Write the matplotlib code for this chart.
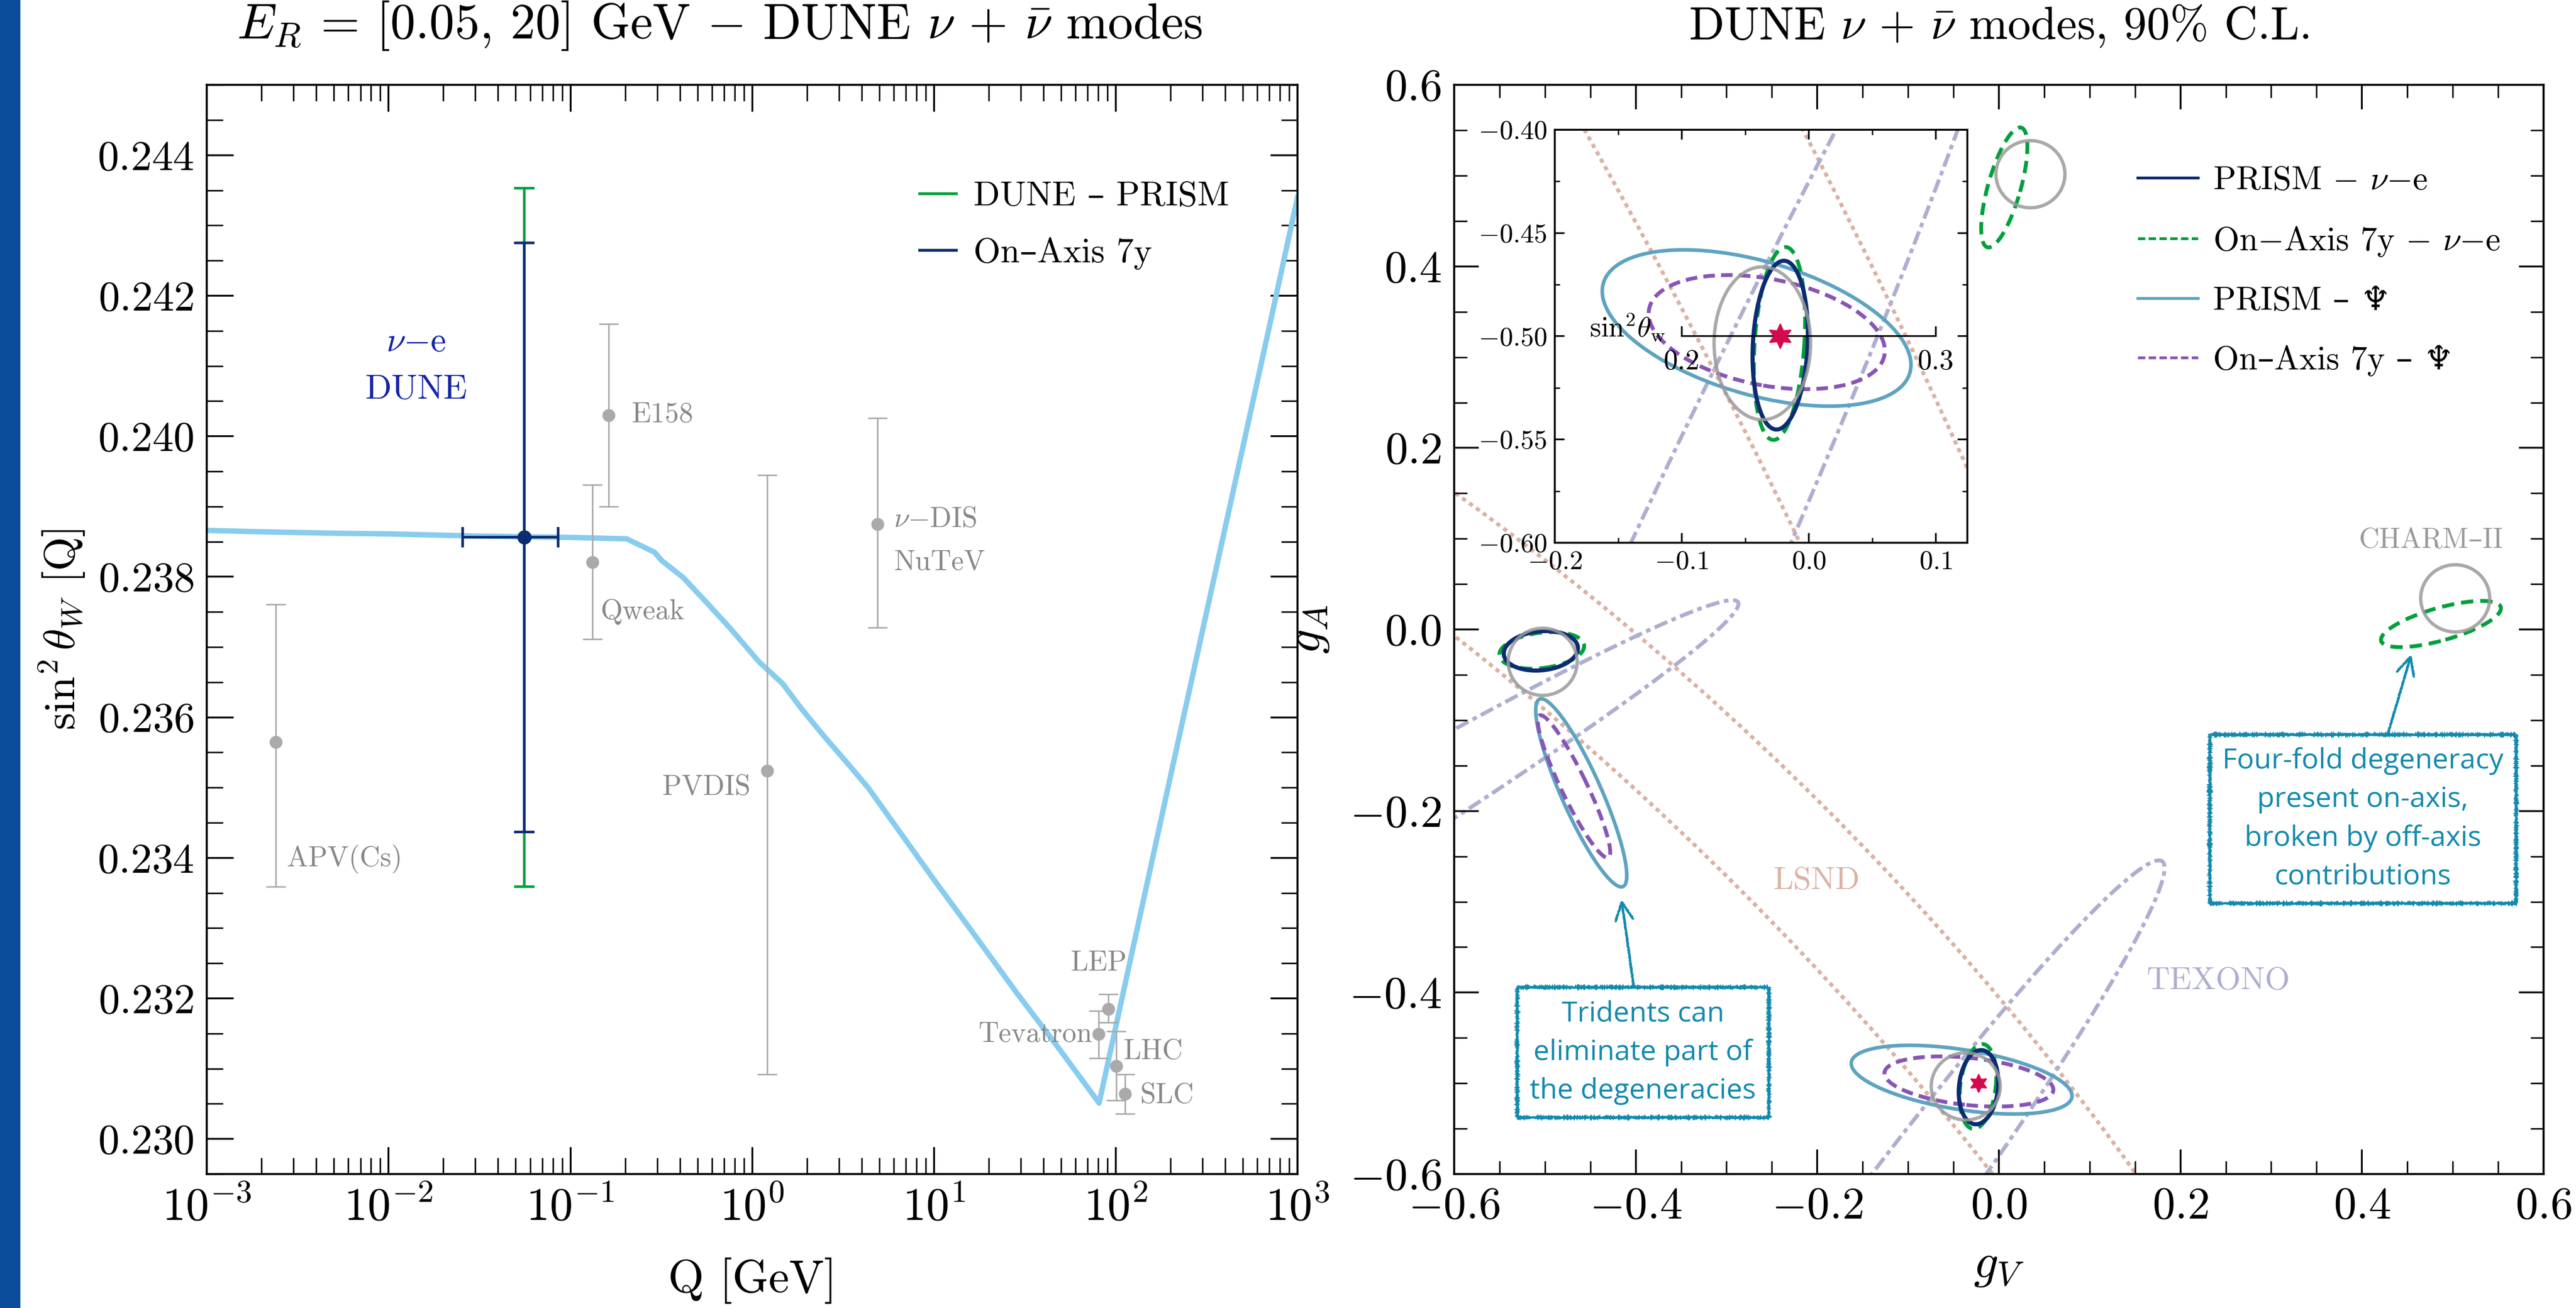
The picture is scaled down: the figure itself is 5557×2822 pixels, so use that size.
import matplotlib
matplotlib.use('Agg')
import matplotlib.pyplot as plt
from matplotlib.patches import Ellipse, Rectangle
from matplotlib.lines import Line2D
from matplotlib.ticker import FuncFormatter, MultipleLocator, FixedLocator, NullFormatter

plt.rcParams['mathtext.fontset'] = 'cm'
plt.rcParams['font.family'] = ['cmr10', 'DejaVu Serif', 'DejaVu Sans']
plt.rcParams['axes.formatter.use_mathtext'] = True
plt.rcParams['axes.linewidth'] = 1.6

# ---------------- left panel data ----------------
# running sin^2 theta_W (light blue curve)
q_run = [0.001, 0.002, 0.005, 0.01, 0.03, 0.1, 0.204, 0.29, 0.318, 0.417, 0.563,
         0.761, 1.09, 1.47, 1.87, 2.45, 3.41, 4.34, 10.06, 15.7, 28.3, 48.6, 81.0,
         200.0, 700.0, 1000.0]
s2w_run = [0.23866, 0.23864, 0.23862, 0.23861, 0.23858, 0.23856, 0.23854, 0.23835,
           0.23823, 0.23799, 0.23763, 0.23726, 0.23679, 0.23648, 0.23612, 0.23575,
           0.23532, 0.23500, 0.23368, 0.23300, 0.23209, 0.23129, 0.23051,
           0.23516, 0.24156, 0.24340]

# existing measurements (grey)
exp_names = ['APV(Cs)', 'Qweak', 'E158', 'PVDIS', 'NuTeV', 'Tevatron', 'LEP', 'LHC', 'SLC']
exp_q = [0.0024, 0.1325, 0.162, 1.21, 4.89, 80.4, 91.0, 100.7, 112.5]
exp_s2w = [0.23565, 0.23821, 0.24030, 0.23524, 0.23875, 0.23149, 0.23185, 0.23104, 0.23064]
exp_err_lo = [0.00206, 0.00110, 0.00130, 0.00432, 0.00147, 0.00034, 0.00019, 0.00049, 0.00028]
exp_err_hi = [0.00196, 0.00110, 0.00130, 0.00421, 0.00151, 0.00033, 0.00021, 0.00049, 0.00028]

# DUNE nu-e projection
dune_q = 0.0556
dune_qerr = 0.03
dune_s2w = 0.23856
dune_err_prism = 0.00497
dune_err_onaxis = 0.00419

q_ticks = [1e-3, 1e-2, 1e-1, 1e0, 1e1, 1e2, 1e3]

# ---------------- right panel data ----------------
# contours as (gV centre, gA centre, width, height, angle)
prism_nue = [(-0.0224, -0.5043, 0.082, 0.043, 84.4),
             (-0.5045, -0.0235, 0.082, 0.043, 5.6)]
onaxis_nue = [(-0.0230, -0.5035, 0.094, 0.039, 83.0),
              (-0.5035, -0.0230, 0.094, 0.039, 7.0),
              (0.0060, 0.4870, 0.137, 0.036, 74.2),
              (0.4870, 0.0060, 0.137, 0.036, 15.8)]
prism_tri = [(-0.041, -0.496, 0.246, 0.066, -9.0),
             (-0.460, -0.180, 0.226, 0.044, 114.0)]
onaxis_tri = [(-0.033, -0.498, 0.187, 0.052, -6.0),
              (-0.468, -0.173, 0.174, 0.028, 115.8)]
charm2 = [(-0.5025, -0.0356, 0.076, 0.074, 0.0),
          (-0.0365, -0.5034, 0.076, 0.074, 0.0),
          (0.0348, 0.5016, 0.076, 0.074, 0.0),
          (0.5027, 0.0343, 0.076, 0.074, 0.0)]
texono = [(-0.973, -0.382, 1.60, 0.100, 31.0),
          (-0.148, -0.697, 1.10, 0.104, 53.4)]
lsnd = [(-1.0, -1.0, 2.02, 3.80, 45.0),
        (-1.0, -1.0, 2.28, 3.90, 45.0)]
sm_point = (-0.0225, -0.5)
s2w_scale = [0.2, 0.3]

c_navy = '#0b2b72'
c_green = '#00a03c'
c_teal = '#5ea3c0'
c_purple = '#8855b5'
c_gray = '#9a9a9a'
c_lsnd = '#dcb1a4'
c_texono = '#aeaed0'
c_star = '#d6084f'
c_run = '#88ccee'
c_note = '#1289ad'

fig = plt.figure(figsize=(27.785, 14.11), dpi=200)
fig.add_artist(Rectangle((0, 0), 42 / 5557, 1, transform=fig.transFigure,
                         color='#0a4c9a', zorder=0))

# ================= left panel =================
ax1 = fig.add_axes([0.0803, 0.1024, 0.4234, 0.8327])
ax1.plot(q_run, s2w_run, color=c_run, lw=4.2, zorder=2)
ax1.errorbar(exp_q, exp_s2w, yerr=[exp_err_lo, exp_err_hi], fmt='o', color='#aaaaaa',
             ms=9, lw=1.2, capsize=7.5, capthick=1.2, zorder=3)
ax1.errorbar([dune_q], [dune_s2w], yerr=dune_err_prism, fmt='none', ecolor=c_green,
             elinewidth=2.0, capsize=8, capthick=2.0, zorder=4)
ax1.errorbar([dune_q], [dune_s2w], xerr=dune_qerr, yerr=dune_err_onaxis, fmt='o',
             color=c_navy, ms=10, elinewidth=2.0, capsize=8, capthick=2.0, zorder=5)

ax1.set_xscale('log')
ax1.set_xlim(1e-3, 1e3)
ax1.set_ylim(0.2295, 0.245)
ax1.yaxis.set_major_locator(MultipleLocator(0.002))
ax1.yaxis.set_minor_locator(MultipleLocator(0.0005))
ax1.yaxis.set_major_formatter(FuncFormatter(lambda v, p: r'$%.3f$' % v))
ax1.xaxis.set_major_locator(FixedLocator(q_ticks))
ax1.xaxis.set_major_formatter(FuncFormatter(lambda v, p: r'$10^{%d}$' % round(__import__('math').log10(v))))
ax1.xaxis.set_minor_locator(FixedLocator([d * m for d in q_ticks[:-1] for m in range(2, 10)]))
ax1.xaxis.set_minor_formatter(NullFormatter())
ax1.tick_params(which='both', direction='in', top=True, right=True, labelsize=36, pad=10)
ax1.tick_params(axis='y', labelsize=33)
ax1.tick_params(which='major', length=21, width=1.4)
ax1.tick_params(which='minor', length=12.5, width=1.2)
ax1.set_xlabel('Q [GeV]', fontsize=36, labelpad=22)
ax1.set_ylabel(r'$\sin^2\theta_W$ [Q]', fontsize=34, labelpad=8)
ax1.set_title(r'$E_R$ = [0.05, 20] GeV $-$ DUNE $\nu$ + $\bar{\nu}$ modes', fontsize=39,
              pad=36, x=0.47)

gtxt = dict(color='#888888', fontsize=22)
ax1.text(0.00276, 0.23398, 'APV(Cs)', ha='left', va='center', **gtxt)
ax1.text(0.147, 0.2375, 'Qweak', ha='left', va='center', **gtxt)
ax1.text(0.216, 0.2403, 'E158', ha='left', va='center', **gtxt)
ax1.text(0.977, 0.2350, 'PVDIS', ha='right', va='center', **gtxt)
ax1.text(6.0, 0.23881, r'$\nu$$-$DIS', ha='left', va='center', **gtxt)
ax1.text(6.0, 0.2382, 'NuTeV', ha='left', va='center', **gtxt)
ax1.text(56.2, 0.2325, 'LEP', ha='left', va='center', **gtxt)
ax1.text(74.5, 0.23149, 'Tevatron', ha='right', va='center', **gtxt)
ax1.text(110, 0.23124, 'LHC', ha='left', va='center', **gtxt)
ax1.text(136, 0.23061, 'SLC', ha='left', va='center', **gtxt)
ax1.text(0.01416, 0.24133, r'$\nu$$-$e', ha='center', va='center', color='#1424a8', fontsize=27)
ax1.text(0.01416, 0.24065, 'DUNE', ha='center', va='center', color='#1424a8', fontsize=27)

h_left = [Line2D([], [], color=c_green, lw=2.2), Line2D([], [], color=c_navy, lw=2.2)]
ax1.legend(h_left, ['DUNE – PRISM', 'On–Axis 7y'], loc='upper left',
           bbox_to_anchor=(0.625, 0.94), frameon=False, fontsize=27,
           handlelength=1.05, handletextpad=0.5, labelspacing=0.7)


# ================= right panel =================
def draw_contours(ax):
    for (x, y, w, h, a) in lsnd:
        ax.add_patch(Ellipse((x, y), w, h, angle=a, fill=False, ec=c_lsnd, lw=3.0,
                             ls=(0, (1.1, 1.1)), zorder=1))
    for (x, y, w, h, a) in texono:
        ax.add_patch(Ellipse((x, y), w, h, angle=a, fill=False, ec=c_texono, lw=3.0,
                             ls=(0, (3.6, 1.2, 1.2, 1.2)), zorder=1))
    for (x, y, w, h, a) in prism_tri:
        ax.add_patch(Ellipse((x, y), w, h, angle=a, fill=False, ec=c_teal, lw=2.8, zorder=2))
    for (x, y, w, h, a) in onaxis_tri:
        ax.add_patch(Ellipse((x, y), w, h, angle=a, fill=False, ec=c_purple, lw=3.0,
                             ls=(0, (3.0, 1.6)), zorder=2))
    for (x, y, w, h, a) in onaxis_nue:
        ax.add_patch(Ellipse((x, y), w, h, angle=a, fill=False, ec=c_green, lw=3.0,
                             ls=(0, (3.2, 1.8)), zorder=3))
    for (x, y, w, h, a) in prism_nue:
        ax.add_patch(Ellipse((x, y), w, h, angle=a, fill=False, ec=c_navy, lw=3.2, zorder=4))
    for (x, y, w, h, a) in charm2:
        ax.add_patch(Ellipse((x, y), w, h, angle=a, fill=False, ec=c_gray, lw=2.6,
                             alpha=0.85, zorder=4.5))


ax2 = fig.add_axes([0.5645, 0.1024, 0.4229, 0.8327])
draw_contours(ax2)
ax2.plot([sm_point[0]], [sm_point[1]], marker=(6, 1, 0), ms=14, color=c_star, ls='none', zorder=6)
ax2.set_xlim(-0.6, 0.6)
ax2.set_ylim(-0.6, 0.6)
for axis in (ax2.xaxis, ax2.yaxis):
    axis.set_major_locator(MultipleLocator(0.2))
    axis.set_minor_locator(MultipleLocator(0.05))
    axis.set_major_formatter(FuncFormatter(lambda v, p: r'$%.1f$' % (0.0 if abs(v) < 1e-9 else v)))
ax2.tick_params(which='both', direction='in', top=True, right=True, labelsize=35, pad=10)
ax2.tick_params(which='major', length=19, width=1.4)
ax2.tick_params(which='minor', length=10, width=1.2)
ax2.set_xlabel(r'$g_V$', fontsize=38, labelpad=14)
ax2.set_ylabel(r'$g_A$', fontsize=38, labelpad=14)
ax2.set_title(r'DUNE $\nu$ + $\bar{\nu}$ modes, 90% C.L.', fontsize=36, pad=36)

ax2.text(-0.2006, -0.277, 'LSND', color=c_lsnd, fontsize=25, ha='center', va='center')
ax2.text(0.2417, -0.387, 'TEXONO', color=c_texono, fontsize=25, ha='center', va='center')
ax2.text(0.476, 0.098, 'CHARM–II', color='#999999', fontsize=22, ha='center', va='center')

h_right = [Line2D([], [], color=c_navy, lw=2.2),
           Line2D([], [], color=c_green, lw=2.2, ls=(0, (2.6, 1.2))),
           Line2D([], [], color=c_teal, lw=2.2),
           Line2D([], [], color=c_purple, lw=2.2, ls=(0, (2.6, 1.2)))]
l_right = [r'PRISM $-$ $\nu$$-$e', r'On$-$Axis 7y $-$ $\nu$$-$e', 'PRISM – ♆', 'On–Axis 7y – ♆']
ax2.legend(h_right, l_right, loc='upper left', bbox_to_anchor=(0.60, 0.953),
           frameon=False, fontsize=26, handlelength=1.8, handletextpad=0.45,
           labelspacing=0.85)

note_font = ['Liberation Sans Narrow', 'Open Sans', 'DejaVu Sans']
notes = [('Tridents can\neliminate part of\nthe degeneracies', (-0.4156, -0.2982), (-0.392, -0.466)),
         ('Four-fold degeneracy\npresent on-axis,\nbroken by off-axis\ncontributions',
          (0.4541, -0.028), (0.401, -0.2088))]
for txt, xy, xyt in notes:
    ann = ax2.annotate(txt, xy=xy, xytext=xyt, ha='center', va='center', color=c_note,
                       fontsize=22, family=note_font, linespacing=1.5, zorder=8,
                       bbox=dict(boxstyle='square,pad=0.45', fc='white', ec=c_note, lw=1.6),
                       arrowprops=dict(arrowstyle='->', color=c_note, lw=1.5,
                                       mutation_scale=35, shrinkA=0, shrinkB=0))
    ann.get_bbox_patch().set_sketch_params(1.5, 2.0, 2.0)
    ann.arrow_patch.set_sketch_params(1.2, 2.5, 2.0)

# ---------------- inset ----------------
axin = fig.add_axes([0.60356, 0.58505, 0.16016, 0.31573])
axin.set_facecolor('white')
draw_contours(axin)
axin.plot([sm_point[0]], [sm_point[1]], marker=(6, 1, 0), ms=19, color=c_star, ls='none', zorder=6)
gv_scale = [-0.5 + 2 * s for s in s2w_scale]
axin.plot(gv_scale, [-0.5, -0.5], color='black', lw=1.3, zorder=5)
axin.plot(gv_scale, [-0.5, -0.5], ls='none', marker=2, ms=7.5, mew=1.3, color='black', zorder=5)
for g, s in zip(gv_scale, s2w_scale):
    axin.text(g, -0.5126, '%.1f' % s, ha='center', va='center', fontsize=22)
axin.text(-0.113, -0.4955, r'sin$^2\theta_\mathrm{w}$', ha='right', va='center', fontsize=22)
axin.set_xlim(-0.2, 0.125)
axin.set_ylim(-0.6, -0.4)
axin.xaxis.set_major_locator(MultipleLocator(0.1))
axin.xaxis.set_minor_locator(MultipleLocator(0.05))
axin.yaxis.set_major_locator(MultipleLocator(0.05))
axin.yaxis.set_minor_locator(MultipleLocator(0.025))
axin.xaxis.set_major_formatter(FuncFormatter(lambda v, p: r'$%.1f$' % (0.0 if abs(v) < 1e-9 else v)))
axin.yaxis.set_major_formatter(FuncFormatter(lambda v, p: r'$%.2f$' % v))
axin.tick_params(which='both', direction='in', top=True, right=True, labelsize=21, pad=6)
axin.tick_params(which='major', length=7.5, width=1.3)
axin.tick_params(which='minor', length=4, width=1.1)
for sp in axin.spines.values():
    sp.set_linewidth(1.5)

fig.savefig('out.png', dpi=200)
